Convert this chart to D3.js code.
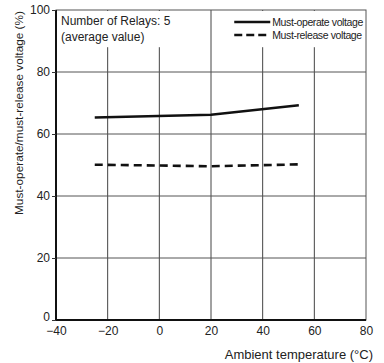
<!DOCTYPE html>
<html>
<head>
<meta charset="utf-8">
<script src="https://cdn.jsdelivr.net/npm/d3@7"></script>
<style>
  body { margin: 0; background: #fff; }
  svg { display: block; font-family: "Liberation Sans", Arial, sans-serif; }
</style>
</head>
<body>
<div id="chart"></div>
<script>
// Must-operate / must-release voltage vs. ambient temperature

const temps = [-25, 20, 54];
const operateVoltage = [65.3, 66.2, 69.3];
const releaseVoltage = [50.1, 49.6, 50.2];
const xTicks = [-40, -20, 0, 20, 40, 60, 80];
const yTicks = [0, 20, 40, 60, 80, 100];

const width = 384, height = 363;
const margin = { top: 10, right: 18, bottom: 43, left: 56 };
const W = width - margin.left - margin.right;
const H = height - margin.top - margin.bottom;

const svg = d3.select("#chart").append("svg")
    .attr("width", width)
    .attr("height", height);

const g = svg.append("g")
    .attr("transform", `translate(${margin.left},${margin.top})`);

const x = d3.scaleLinear().domain([-40, 80]).range([0, W]);
const y = d3.scaleLinear().domain([0, 100]).range([H, 0]);

// grid
g.append("g").selectAll("line")
    .data(xTicks.slice(1, -1))
    .join("line")
    .attr("x1", d => x(d)).attr("x2", d => x(d))
    .attr("y1", 0).attr("y2", H)
    .attr("stroke", "#444").attr("stroke-width", 1);

g.append("g").selectAll("line")
    .data(yTicks.slice(1, -1))
    .join("line")
    .attr("x1", 0).attr("x2", W)
    .attr("y1", d => y(d)).attr("y2", d => y(d))
    .attr("stroke", "#555").attr("stroke-width", 1);

// white boxes behind the annotation and the legend
g.append("rect").attr("x", 1).attr("y", 1)
    .attr("width", x(15) - 1).attr("height", y(88) - 1).attr("fill", "#fff");
g.append("rect").attr("x", x(26)).attr("y", 1)
    .attr("width", W - x(26) - 1).attr("height", y(88) - 1).attr("fill", "#fff");

// frame
g.append("rect").attr("width", W).attr("height", H)
    .attr("fill", "none").attr("stroke", "#555").attr("stroke-width", 1);
g.append("line").attr("x1", 0).attr("x2", 0).attr("y1", 0).attr("y2", H)
    .attr("stroke", "#111").attr("stroke-width", 2);
g.append("line").attr("x1", 0).attr("x2", W).attr("y1", H).attr("y2", H)
    .attr("stroke", "#111").attr("stroke-width", 2);

// axes
const xAxis = g.append("g").attr("transform", `translate(0,${H})`)
    .call(d3.axisBottom(x).tickValues(xTicks).tickSize(0).tickPadding(6)
        .tickFormat(d => d < 0 ? "\u2212" + Math.abs(d) : d));
const yAxis = g.append("g")
    .call(d3.axisLeft(y).tickValues(yTicks).tickSize(4).tickPadding(2));
[xAxis, yAxis].forEach(a => {
    a.select(".domain").remove();
    a.selectAll("line").attr("stroke", "#333");
    a.selectAll("text").attr("font-size", "12px").attr("fill", "#222")
        .attr("font-family", "Liberation Sans, Arial, sans-serif");
});
// lift the zero label clear of the x tick labels
yAxis.selectAll("text").filter(d => d === 0).attr("dy", "0.05em");

// series
const line = d3.line().x(d => x(d[0])).y(d => y(d[1]));
g.append("path")
    .datum(d3.zip(temps, operateVoltage))
    .attr("d", line)
    .attr("fill", "none").attr("stroke", "#111").attr("stroke-width", 2.6);
g.append("path")
    .datum(d3.zip(temps, releaseVoltage))
    .attr("d", line)
    .attr("fill", "none").attr("stroke", "#111").attr("stroke-width", 2.6)
    .attr("stroke-dasharray", "8,5");

// annotation
g.append("text").attr("x", 5).attr("y", 15)
    .attr("font-size", "12px").attr("fill", "#222").text("Number of Relays: 5");
g.append("text").attr("x", 5).attr("y", 31)
    .attr("font-size", "12px").attr("fill", "#222").text("(average value)");

// legend
const legend = g.append("g").attr("transform", `translate(${x(29)},0)`);
[["Must-operate voltage", null], ["Must-release voltage", "8,4"]].forEach(([label, dash], i) => {
    const ly = 12 + i * 13;
    legend.append("line").attr("x1", 0).attr("x2", 36).attr("y1", ly).attr("y2", ly)
        .attr("stroke", "#111").attr("stroke-width", 2.6)
        .attr("stroke-dasharray", dash);
    legend.append("text").attr("x", 38).attr("y", ly + 4)
        .attr("font-size", "10.5px").attr("letter-spacing", "-0.4px")
        .attr("fill", "#222").text(label);
});

// axis titles
svg.append("text")
    .attr("x", width - 11).attr("y", 359)
    .attr("text-anchor", "end").attr("font-size", "13px").attr("fill", "#222")
    .text("Ambient temperature (\u00B0C)");
svg.append("text")
    .attr("transform", "translate(23,113) rotate(-90)")
    .attr("text-anchor", "middle").attr("font-size", "11.8px").attr("fill", "#222")
    .text("Must-operate/must-release voltage (%)");
</script>
</body>
</html>
